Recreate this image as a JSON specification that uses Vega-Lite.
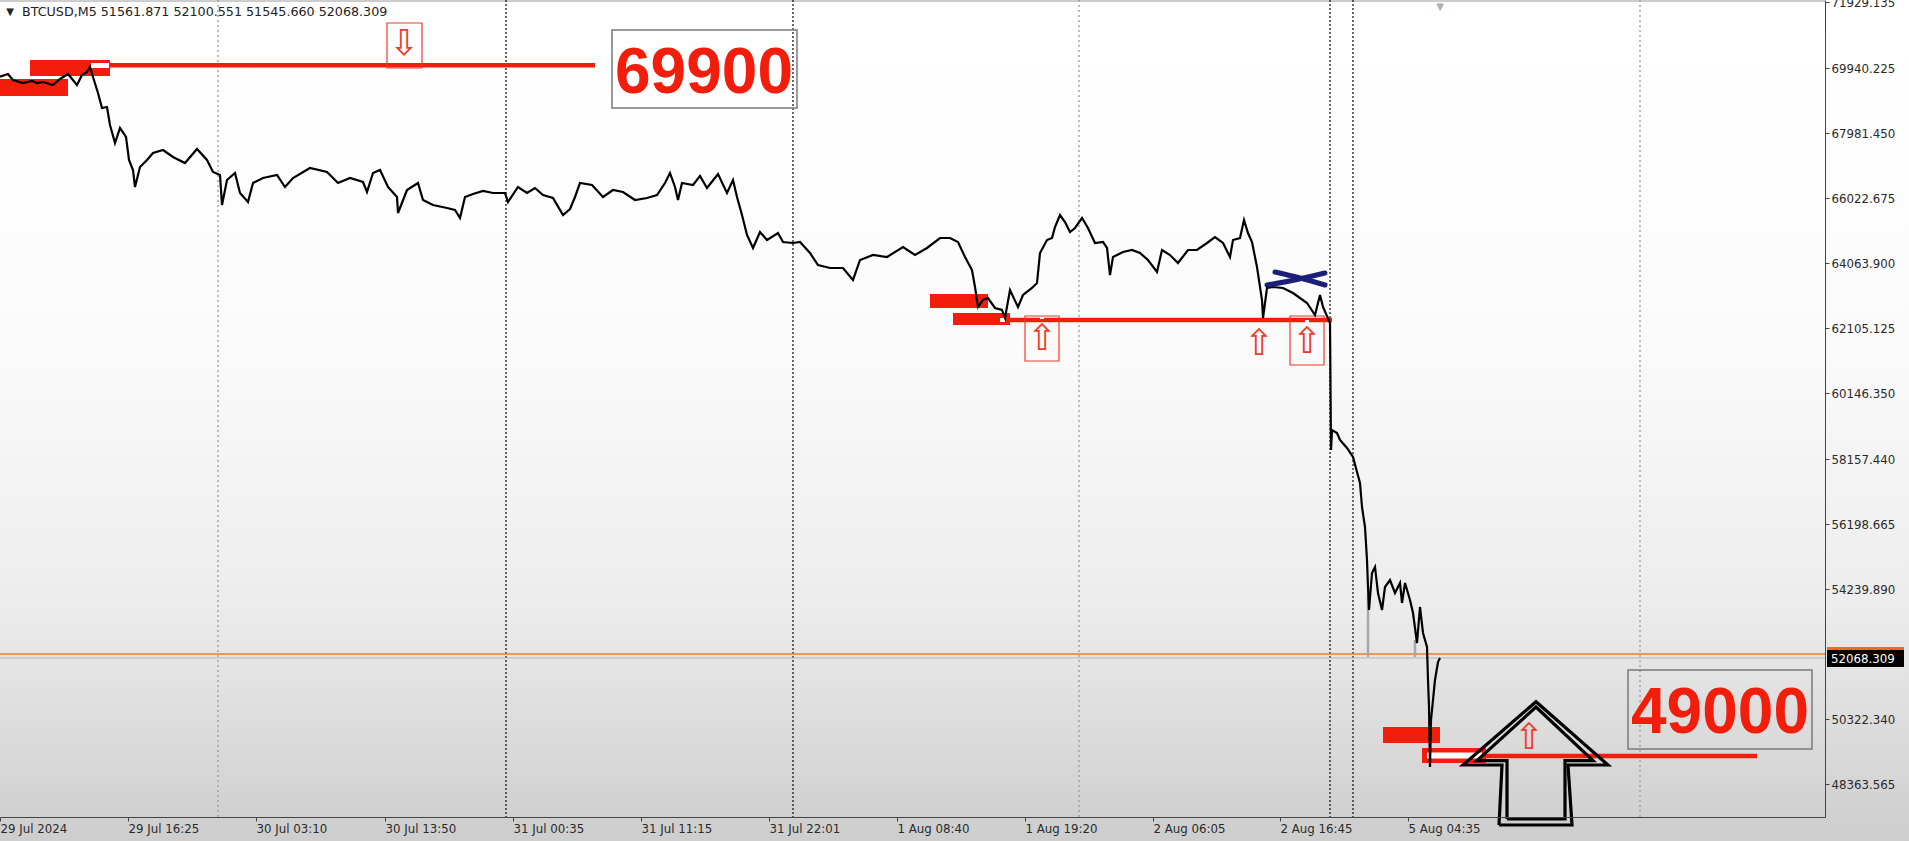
{
  "$schema": "https://vega.github.io/schema/vega-lite/v6.json",
  "width": 1825,
  "height": 817,
  "padding": {"left": 0, "top": 0, "right": 84, "bottom": 24},
  "autosize": {"type": "none"},
  "background": "#d4d4d4",
  "config": {
    "view": {"stroke": null},
    "axis": {"labelFont": "DejaVu Sans", "labelFontSize": 11.8, "labelColor": "#2a2a2a", "domainColor": "#444444", "tickColor": "#444444", "grid": false}
  },
  "datasets": {
    "bg": [{"bar": 0, "bar2": 1909, "price": 46600, "price2": 72100}],
    "sepGrey": [{"bar": 218}, {"bar": 1079}, {"bar": 1640}],
    "sepBlack": [{"bar": 506}, {"bar": 793}, {"bar": 1330}, {"bar": 1353}],
    "bidLine": [{"price": 52170}],
    "askLine": [{"price": 52290}],
    "redLines": [
      {"bar": 110, "bar2": 595, "price": 70030},
      {"bar": 1010, "bar2": 1332, "price": 62355},
      {"bar": 1485, "bar2": 1757, "price": 49216}
    ],
    "redRects": [
      {"bar": 0, "bar2": 68, "price": 69618, "price2": 69105},
      {"bar": 30, "bar2": 110, "price": 70190, "price2": 69708},
      {"bar": 930, "bar2": 988, "price": 63139, "price2": 62717},
      {"bar": 953, "bar2": 1010, "price": 62566, "price2": 62205},
      {"bar": 1383, "bar2": 1440, "price": 50090, "price2": 49608},
      {"bar": 1422, "bar2": 1486, "price": 49457, "price2": 49005}
    ],
    "whiteRects": [
      {"bar": 91, "bar2": 109, "price": 70100, "price2": 69949},
      {"bar": 1000, "bar2": 1005, "price": 62415, "price2": 62295},
      {"bar": 1040, "bar2": 1044, "price": 62506, "price2": 62386},
      {"bar": 1305, "bar2": 1309, "price": 62355, "price2": 62235},
      {"bar": 1427, "bar2": 1482, "price": 49321, "price2": 49141}
    ],
    "redBoxes": [
      {"bar": 387, "bar2": 422, "price": 71305, "price2": 69949},
      {"bar": 1025, "bar2": 1059, "price": 62476, "price2": 61120},
      {"bar": 1290, "bar2": 1324, "price": 62476, "price2": 60999}
    ],
    "greyBoxes": [
      {"bar": 612, "bar2": 797, "price": 71094, "price2": 68744},
      {"bar": 1628, "bar2": 1812, "price": 51808, "price2": 49427}
    ],
    "spikes": [
      {"bar": 1368, "price": 54068, "price2": 52199},
      {"bar": 1415, "price": 52712, "price2": 52199}
    ],
    "price": [
      {"bar": 0, "price": 69687}, {"bar": 8, "price": 69768}, {"bar": 13, "price": 69588}, {"bar": 23, "price": 69497},
      {"bar": 32, "price": 69558}, {"bar": 37, "price": 69497}, {"bar": 43, "price": 69527}, {"bar": 53, "price": 69437},
      {"bar": 60, "price": 69618}, {"bar": 68, "price": 69768}, {"bar": 77, "price": 69437}, {"bar": 82, "price": 69738},
      {"bar": 87, "price": 69829}, {"bar": 90, "price": 69979}, {"bar": 93, "price": 69678}, {"bar": 98, "price": 69196},
      {"bar": 102, "price": 68744}, {"bar": 107, "price": 68774}, {"bar": 110, "price": 68232}, {"bar": 115, "price": 67689},
      {"bar": 120, "price": 68141}, {"bar": 126, "price": 67870}, {"bar": 129, "price": 67177}, {"bar": 133, "price": 66875},
      {"bar": 135, "price": 66363}, {"bar": 140, "price": 66966}, {"bar": 147, "price": 67177}, {"bar": 153, "price": 67388},
      {"bar": 163, "price": 67478}, {"bar": 173, "price": 67267}, {"bar": 185, "price": 67086}, {"bar": 197, "price": 67508},
      {"bar": 207, "price": 67177}, {"bar": 213, "price": 66815}, {"bar": 220, "price": 66725}, {"bar": 222, "price": 65821},
      {"bar": 227, "price": 66574}, {"bar": 235, "price": 66785}, {"bar": 240, "price": 66182}, {"bar": 248, "price": 65911},
      {"bar": 253, "price": 66484}, {"bar": 263, "price": 66634}, {"bar": 277, "price": 66725}, {"bar": 285, "price": 66363},
      {"bar": 293, "price": 66634}, {"bar": 310, "price": 66936}, {"bar": 327, "price": 66815}, {"bar": 338, "price": 66484},
      {"bar": 350, "price": 66634}, {"bar": 363, "price": 66514}, {"bar": 367, "price": 66213}, {"bar": 373, "price": 66785},
      {"bar": 380, "price": 66875}, {"bar": 388, "price": 66363}, {"bar": 397, "price": 66062}, {"bar": 398, "price": 65580},
      {"bar": 407, "price": 66273}, {"bar": 418, "price": 66484}, {"bar": 423, "price": 65971}, {"bar": 433, "price": 65821},
      {"bar": 447, "price": 65730}, {"bar": 455, "price": 65670}, {"bar": 460, "price": 65429}, {"bar": 465, "price": 66062},
      {"bar": 473, "price": 66152}, {"bar": 483, "price": 66243}, {"bar": 493, "price": 66182}, {"bar": 505, "price": 66182},
      {"bar": 508, "price": 65911}, {"bar": 518, "price": 66363}, {"bar": 527, "price": 66182}, {"bar": 535, "price": 66333},
      {"bar": 543, "price": 66122}, {"bar": 553, "price": 66032}, {"bar": 563, "price": 65519}, {"bar": 570, "price": 65700},
      {"bar": 575, "price": 66062}, {"bar": 580, "price": 66484}, {"bar": 592, "price": 66423}, {"bar": 603, "price": 66062},
      {"bar": 613, "price": 66273}, {"bar": 623, "price": 66213}, {"bar": 635, "price": 65971}, {"bar": 647, "price": 66032},
      {"bar": 657, "price": 66122}, {"bar": 665, "price": 66484}, {"bar": 670, "price": 66785}, {"bar": 675, "price": 66363},
      {"bar": 678, "price": 65971}, {"bar": 682, "price": 66484}, {"bar": 693, "price": 66423}, {"bar": 700, "price": 66695},
      {"bar": 707, "price": 66333}, {"bar": 718, "price": 66755}, {"bar": 727, "price": 66182}, {"bar": 733, "price": 66574},
      {"bar": 737, "price": 66062}, {"bar": 742, "price": 65519}, {"bar": 747, "price": 64917}, {"bar": 753, "price": 64525},
      {"bar": 760, "price": 65007}, {"bar": 767, "price": 64766}, {"bar": 778, "price": 64977}, {"bar": 783, "price": 64706},
      {"bar": 793, "price": 64676}, {"bar": 800, "price": 64706}, {"bar": 810, "price": 64374}, {"bar": 818, "price": 64013},
      {"bar": 830, "price": 63922}, {"bar": 843, "price": 63922}, {"bar": 853, "price": 63561}, {"bar": 860, "price": 64163},
      {"bar": 873, "price": 64314}, {"bar": 887, "price": 64254}, {"bar": 903, "price": 64555}, {"bar": 915, "price": 64314},
      {"bar": 927, "price": 64525}, {"bar": 940, "price": 64826}, {"bar": 950, "price": 64826}, {"bar": 958, "price": 64706},
      {"bar": 965, "price": 64254}, {"bar": 972, "price": 63862}, {"bar": 975, "price": 63350}, {"bar": 978, "price": 62747},
      {"bar": 983, "price": 62958}, {"bar": 988, "price": 63018}, {"bar": 995, "price": 62717}, {"bar": 1002, "price": 62657},
      {"bar": 1005, "price": 62416}, {"bar": 1010, "price": 63259}, {"bar": 1018, "price": 62747}, {"bar": 1023, "price": 63109},
      {"bar": 1032, "price": 63320}, {"bar": 1037, "price": 63470}, {"bar": 1040, "price": 64374}, {"bar": 1047, "price": 64766},
      {"bar": 1052, "price": 64826}, {"bar": 1055, "price": 65158}, {"bar": 1060, "price": 65519}, {"bar": 1065, "price": 65308},
      {"bar": 1070, "price": 65007}, {"bar": 1075, "price": 65128}, {"bar": 1082, "price": 65429}, {"bar": 1088, "price": 65128},
      {"bar": 1095, "price": 64676}, {"bar": 1103, "price": 64706}, {"bar": 1107, "price": 64525}, {"bar": 1110, "price": 63711},
      {"bar": 1113, "price": 64254}, {"bar": 1123, "price": 64404}, {"bar": 1132, "price": 64465}, {"bar": 1140, "price": 64374},
      {"bar": 1148, "price": 64163}, {"bar": 1157, "price": 63802}, {"bar": 1162, "price": 64465}, {"bar": 1170, "price": 64314},
      {"bar": 1178, "price": 64073}, {"bar": 1188, "price": 64465}, {"bar": 1197, "price": 64465}, {"bar": 1207, "price": 64676},
      {"bar": 1215, "price": 64856}, {"bar": 1223, "price": 64676}, {"bar": 1230, "price": 64254}, {"bar": 1233, "price": 64766},
      {"bar": 1240, "price": 64826}, {"bar": 1244, "price": 65369}, {"bar": 1248, "price": 64977}, {"bar": 1252, "price": 64706},
      {"bar": 1257, "price": 63952}, {"bar": 1262, "price": 62958}, {"bar": 1263, "price": 62416}, {"bar": 1267, "price": 63320},
      {"bar": 1273, "price": 63350}, {"bar": 1283, "price": 63320}, {"bar": 1293, "price": 63169}, {"bar": 1300, "price": 63018},
      {"bar": 1307, "price": 62868}, {"bar": 1315, "price": 62506}, {"bar": 1320, "price": 63109}, {"bar": 1323, "price": 62747},
      {"bar": 1330, "price": 62265}, {"bar": 1331, "price": 58438}, {"bar": 1332, "price": 59040}, {"bar": 1337, "price": 58950},
      {"bar": 1340, "price": 58739}, {"bar": 1347, "price": 58498}, {"bar": 1353, "price": 58227}, {"bar": 1357, "price": 57775},
      {"bar": 1360, "price": 57443}, {"bar": 1362, "price": 56720}, {"bar": 1365, "price": 56117}, {"bar": 1367, "price": 55123},
      {"bar": 1368, "price": 54309}, {"bar": 1369, "price": 53616}, {"bar": 1372, "price": 54731}, {"bar": 1375, "price": 54912},
      {"bar": 1378, "price": 54128}, {"bar": 1382, "price": 53616}, {"bar": 1385, "price": 54309}, {"bar": 1390, "price": 54520},
      {"bar": 1395, "price": 54128}, {"bar": 1400, "price": 54430}, {"bar": 1402, "price": 53827}, {"bar": 1405, "price": 54430},
      {"bar": 1410, "price": 53917}, {"bar": 1413, "price": 53526}, {"bar": 1417, "price": 52622}, {"bar": 1420, "price": 53707},
      {"bar": 1423, "price": 52923}, {"bar": 1427, "price": 52501}, {"bar": 1428, "price": 51507}, {"bar": 1429, "price": 50693},
      {"bar": 1430, "price": 48885}, {"bar": 1431, "price": 50301}, {"bar": 1433, "price": 50904}, {"bar": 1435, "price": 51507},
      {"bar": 1438, "price": 52049}, {"bar": 1440, "price": 52170}
    ],
    "cross": [
      {"stroke": "a", "bar": 1267, "price": 63410}, {"stroke": "a", "bar": 1296, "price": 63570}, {"stroke": "a", "bar": 1325, "price": 63772},
      {"stroke": "b", "bar": 1275, "price": 63802}, {"stroke": "b", "bar": 1300, "price": 63620}, {"stroke": "b", "bar": 1325, "price": 63410}
    ],
    "glyphs": [
      {"bar": 404, "price": 70672, "g": "⇩"},
      {"bar": 1042, "price": 61783, "g": "⇧"},
      {"bar": 1259, "price": 61632, "g": "⇧"},
      {"bar": 1307, "price": 61692, "g": "⇧"},
      {"bar": 1529, "price": 49759, "g": "⇧"}
    ],
    "bigArrow": [
      {"part": "outer", "i": 0, "bar": 1499, "price": 47137}, {"part": "outer", "i": 1, "bar": 1502, "price": 48945},
      {"part": "outer", "i": 2, "bar": 1463, "price": 48945}, {"part": "outer", "i": 3, "bar": 1536, "price": 50853},
      {"part": "outer", "i": 4, "bar": 1608, "price": 48945}, {"part": "outer", "i": 5, "bar": 1568, "price": 48945},
      {"part": "outer", "i": 6, "bar": 1572, "price": 47137}, {"part": "outer", "i": 7, "bar": 1499, "price": 47137},
      {"part": "inner", "i": 0, "bar": 1507, "price": 47318}, {"part": "inner", "i": 1, "bar": 1507, "price": 49075},
      {"part": "inner", "i": 2, "bar": 1477, "price": 49075}, {"part": "inner", "i": 3, "bar": 1536, "price": 50693},
      {"part": "inner", "i": 4, "bar": 1593, "price": 49075}, {"part": "inner", "i": 5, "bar": 1565, "price": 49075},
      {"part": "inner", "i": 6, "bar": 1565, "price": 47318}, {"part": "inner", "i": 7, "bar": 1507, "price": 47318}
    ],
    "bigText": [
      {"bar": 704, "price": 69196, "t": "69900"},
      {"bar": 1720, "price": 49909, "t": "49000"}
    ],
    "header": [
      {"bar": 22, "price": 71637, "t": "BTCUSD,M5  51561.871 52100.551 51545.660 52068.309"}
    ],
    "triHead": [{"bar": 10, "price": 71637, "t": "▼"}],
    "triTop": [{"bar": 1440, "price": 71790, "t": "▼"}],
    "tagOrange": [{"bar": 1827, "bar2": 1904, "price": 52501, "price2": 52410}],
    "tagBlack": [{"bar": 1827, "bar2": 1904, "price": 52410, "price2": 51898}],
    "tagText": [{"bar": 1831, "price": 52154, "t": "52068.309"}],
    "topLine": [{"price": 71968}]
  },
  "layer": [
    {
      "data": {"name": "bg"},
      "mark": {"type": "rect", "clip": false, "fill": {"gradient": "linear", "x1": 0, "y1": 0, "x2": 0, "y2": 1, "stops": [{"offset": 0, "color": "#ffffff"}, {"offset": 0.4, "color": "#fbfbfb"}, {"offset": 0.72, "color": "#ececec"}, {"offset": 1, "color": "#cdcdcd"}]}},
      "encoding": {
        "x": {"field": "bar", "type": "quantitative", "title": null, "scale": {"domain": [0, 1825], "nice": false, "zero": false},
          "axis": {"orient": "bottom", "zindex": 2, "values": [0, 128, 256, 385, 513, 641, 769, 897, 1025, 1153, 1280, 1408],
            "labelExpr": "['29 Jul 2024','29 Jul 16:25','30 Jul 03:10','30 Jul 13:50','31 Jul 00:35','31 Jul 11:15','31 Jul 22:01','1 Aug 08:40','1 Aug 19:20','2 Aug 06:05','2 Aug 16:45','5 Aug 04:35'][indexof([0,128,256,385,513,641,769,897,1025,1153,1280,1408], datum.value)]",
            "labelAlign": "left", "labelFlush": false, "labelOverlap": false, "tickSize": 4, "labelPadding": 2, "title": null}},
        "x2": {"field": "bar2"},
        "y": {"field": "price", "type": "quantitative", "title": null, "scale": {"domain": [47378, 71998.4], "nice": false, "zero": false},
          "axis": {"orient": "right", "zindex": 2, "values": [48363.565, 50322.34, 54239.89, 56198.665, 58157.44, 60146.35, 62105.125, 64063.9, 66022.675, 67981.45, 69940.225, 71929.135],
            "format": ".3f", "labelOverlap": false, "labelFlush": false, "tickSize": 4, "labelPadding": 2, "title": null}},
        "y2": {"field": "price2"}
      }
    },
    {
      "data": {"name": "topLine"},
      "mark": {"type": "rule", "color": "#9a9a9a", "strokeWidth": 1},
      "encoding": {"y": {"field": "price", "type": "quantitative", "title": null, "scale": {"domain": [47378, 71998.4], "nice": false, "zero": false}}}
    },
    {
      "data": {"name": "sepGrey"},
      "mark": {"type": "rule", "color": "#9a9a9a", "strokeWidth": 1.3, "strokeDash": [2, 3]},
      "encoding": {"x": {"field": "bar", "type": "quantitative", "title": null, "scale": {"domain": [0, 1825], "nice": false, "zero": false}}}
    },
    {
      "data": {"name": "sepBlack"},
      "mark": {"type": "rule", "color": "#1a1a1a", "strokeWidth": 1.3, "strokeDash": [2, 2]},
      "encoding": {"x": {"field": "bar", "type": "quantitative", "title": null, "scale": {"domain": [0, 1825], "nice": false, "zero": false}}}
    },
    {
      "data": {"name": "bidLine"},
      "mark": {"type": "rule", "color": "#b4b4b4", "strokeWidth": 1},
      "encoding": {"y": {"field": "price", "type": "quantitative", "title": null, "scale": {"domain": [47378, 71998.4], "nice": false, "zero": false}}}
    },
    {
      "data": {"name": "askLine"},
      "mark": {"type": "rule", "color": "#ee7a2e", "strokeWidth": 1.6},
      "encoding": {"y": {"field": "price", "type": "quantitative", "title": null, "scale": {"domain": [47378, 71998.4], "nice": false, "zero": false}}}
    },
    {
      "data": {"name": "redLines"},
      "mark": {"type": "rule", "color": "#f21d0b", "strokeWidth": 4.5},
      "encoding": {
        "x": {"field": "bar", "type": "quantitative", "title": null, "scale": {"domain": [0, 1825], "nice": false, "zero": false}},
        "x2": {"field": "bar2"},
        "y": {"field": "price", "type": "quantitative", "title": null, "scale": {"domain": [47378, 71998.4], "nice": false, "zero": false}}
      }
    },
    {
      "data": {"name": "redRects"},
      "mark": {"type": "rect", "color": "#f21d0b"},
      "encoding": {
        "x": {"field": "bar", "type": "quantitative", "title": null, "scale": {"domain": [0, 1825], "nice": false, "zero": false}},
        "x2": {"field": "bar2"},
        "y": {"field": "price", "type": "quantitative", "title": null, "scale": {"domain": [47378, 71998.4], "nice": false, "zero": false}},
        "y2": {"field": "price2"}
      }
    },
    {
      "data": {"name": "whiteRects"},
      "mark": {"type": "rect", "color": "#ffffff"},
      "encoding": {
        "x": {"field": "bar", "type": "quantitative", "title": null, "scale": {"domain": [0, 1825], "nice": false, "zero": false}},
        "x2": {"field": "bar2"},
        "y": {"field": "price", "type": "quantitative", "title": null, "scale": {"domain": [47378, 71998.4], "nice": false, "zero": false}},
        "y2": {"field": "price2"}
      }
    },
    {
      "data": {"name": "redBoxes"},
      "mark": {"type": "rect", "fill": null, "fillOpacity": 0, "stroke": "#f03a2a", "strokeWidth": 1.2},
      "encoding": {
        "x": {"field": "bar", "type": "quantitative", "title": null, "scale": {"domain": [0, 1825], "nice": false, "zero": false}},
        "x2": {"field": "bar2"},
        "y": {"field": "price", "type": "quantitative", "title": null, "scale": {"domain": [47378, 71998.4], "nice": false, "zero": false}},
        "y2": {"field": "price2"}
      }
    },
    {
      "data": {"name": "greyBoxes"},
      "mark": {"type": "rect", "fill": null, "fillOpacity": 0, "stroke": "#7a7a7a", "strokeWidth": 1.5},
      "encoding": {
        "x": {"field": "bar", "type": "quantitative", "title": null, "scale": {"domain": [0, 1825], "nice": false, "zero": false}},
        "x2": {"field": "bar2"},
        "y": {"field": "price", "type": "quantitative", "title": null, "scale": {"domain": [47378, 71998.4], "nice": false, "zero": false}},
        "y2": {"field": "price2"}
      }
    },
    {
      "data": {"name": "spikes"},
      "mark": {"type": "rule", "color": "#a8a8a8", "strokeWidth": 2.5},
      "encoding": {
        "x": {"field": "bar", "type": "quantitative", "title": null, "scale": {"domain": [0, 1825], "nice": false, "zero": false}},
        "y": {"field": "price", "type": "quantitative", "title": null, "scale": {"domain": [47378, 71998.4], "nice": false, "zero": false}},
        "y2": {"field": "price2"}
      }
    },
    {
      "data": {"name": "price"},
      "mark": {"type": "line", "color": "#000000", "strokeWidth": 2.2, "strokeJoin": "miter"},
      "encoding": {
        "x": {"field": "bar", "type": "quantitative", "title": null, "scale": {"domain": [0, 1825], "nice": false, "zero": false}},
        "y": {"field": "price", "type": "quantitative", "title": null, "scale": {"domain": [47378, 71998.4], "nice": false, "zero": false}}
      }
    },
    {
      "data": {"name": "cross"},
      "mark": {"type": "line", "color": "#1c1f78", "strokeWidth": 5, "strokeCap": "round", "interpolate": "monotone"},
      "encoding": {
        "x": {"field": "bar", "type": "quantitative", "title": null, "scale": {"domain": [0, 1825], "nice": false, "zero": false}},
        "y": {"field": "price", "type": "quantitative", "title": null, "scale": {"domain": [47378, 71998.4], "nice": false, "zero": false}},
        "detail": {"field": "stroke", "type": "nominal"}
      }
    },
    {
      "data": {"name": "glyphs"},
      "mark": {"type": "text", "font": "DejaVu Sans", "fontSize": 36, "color": "#f03a2a", "align": "center", "baseline": "middle"},
      "encoding": {
        "x": {"field": "bar", "type": "quantitative", "title": null, "scale": {"domain": [0, 1825], "nice": false, "zero": false}},
        "y": {"field": "price", "type": "quantitative", "title": null, "scale": {"domain": [47378, 71998.4], "nice": false, "zero": false}},
        "text": {"field": "g", "type": "nominal"}
      }
    },
    {
      "data": {"name": "bigArrow"},
      "mark": {"type": "line", "color": "#000000", "strokeWidth": 3.2, "strokeJoin": "miter", "clip": false},
      "encoding": {
        "x": {"field": "bar", "type": "quantitative", "title": null, "scale": {"domain": [0, 1825], "nice": false, "zero": false}},
        "y": {"field": "price", "type": "quantitative", "title": null, "scale": {"domain": [47378, 71998.4], "nice": false, "zero": false}},
        "detail": {"field": "part", "type": "nominal"},
        "order": {"field": "i", "type": "quantitative"}
      }
    },
    {
      "data": {"name": "bigText"},
      "mark": {"type": "text", "font": "Liberation Sans", "fontWeight": "bold", "fontSize": 64, "color": "#f21d0b", "align": "center", "baseline": "alphabetic"},
      "encoding": {
        "x": {"field": "bar", "type": "quantitative", "title": null, "scale": {"domain": [0, 1825], "nice": false, "zero": false}},
        "y": {"field": "price", "type": "quantitative", "title": null, "scale": {"domain": [47378, 71998.4], "nice": false, "zero": false}},
        "text": {"field": "t", "type": "nominal"}
      }
    },
    {
      "data": {"name": "header"},
      "mark": {"type": "text", "font": "DejaVu Sans", "fontSize": 12.7, "color": "#222222", "align": "left", "baseline": "middle"},
      "encoding": {
        "x": {"field": "bar", "type": "quantitative", "title": null, "scale": {"domain": [0, 1825], "nice": false, "zero": false}},
        "y": {"field": "price", "type": "quantitative", "title": null, "scale": {"domain": [47378, 71998.4], "nice": false, "zero": false}},
        "text": {"field": "t", "type": "nominal"}
      }
    },
    {
      "data": {"name": "triHead"},
      "mark": {"type": "text", "font": "DejaVu Sans", "fontSize": 10, "color": "#222222", "align": "center", "baseline": "middle"},
      "encoding": {
        "x": {"field": "bar", "type": "quantitative", "title": null, "scale": {"domain": [0, 1825], "nice": false, "zero": false}},
        "y": {"field": "price", "type": "quantitative", "title": null, "scale": {"domain": [47378, 71998.4], "nice": false, "zero": false}},
        "text": {"field": "t", "type": "nominal"}
      }
    },
    {
      "data": {"name": "triTop"},
      "mark": {"type": "text", "font": "DejaVu Sans", "fontSize": 10, "color": "#b0b0b0", "align": "center", "baseline": "middle"},
      "encoding": {
        "x": {"field": "bar", "type": "quantitative", "title": null, "scale": {"domain": [0, 1825], "nice": false, "zero": false}},
        "y": {"field": "price", "type": "quantitative", "title": null, "scale": {"domain": [47378, 71998.4], "nice": false, "zero": false}},
        "text": {"field": "t", "type": "nominal"}
      }
    },
    {
      "data": {"name": "tagOrange"},
      "mark": {"type": "rect", "color": "#ee6a1e", "clip": false},
      "encoding": {
        "x": {"field": "bar", "type": "quantitative", "title": null, "scale": {"domain": [0, 1825], "nice": false, "zero": false}},
        "x2": {"field": "bar2"},
        "y": {"field": "price", "type": "quantitative", "title": null, "scale": {"domain": [47378, 71998.4], "nice": false, "zero": false}},
        "y2": {"field": "price2"}
      }
    },
    {
      "data": {"name": "tagBlack"},
      "mark": {"type": "rect", "color": "#000000", "clip": false},
      "encoding": {
        "x": {"field": "bar", "type": "quantitative", "title": null, "scale": {"domain": [0, 1825], "nice": false, "zero": false}},
        "x2": {"field": "bar2"},
        "y": {"field": "price", "type": "quantitative", "title": null, "scale": {"domain": [47378, 71998.4], "nice": false, "zero": false}},
        "y2": {"field": "price2"}
      }
    },
    {
      "data": {"name": "tagText"},
      "mark": {"type": "text", "font": "DejaVu Sans", "fontSize": 11.8, "color": "#ffffff", "align": "left", "baseline": "middle", "clip": false},
      "encoding": {
        "x": {"field": "bar", "type": "quantitative", "title": null, "scale": {"domain": [0, 1825], "nice": false, "zero": false}},
        "y": {"field": "price", "type": "quantitative", "title": null, "scale": {"domain": [47378, 71998.4], "nice": false, "zero": false}},
        "text": {"field": "t", "type": "nominal"}
      }
    }
  ]
}
